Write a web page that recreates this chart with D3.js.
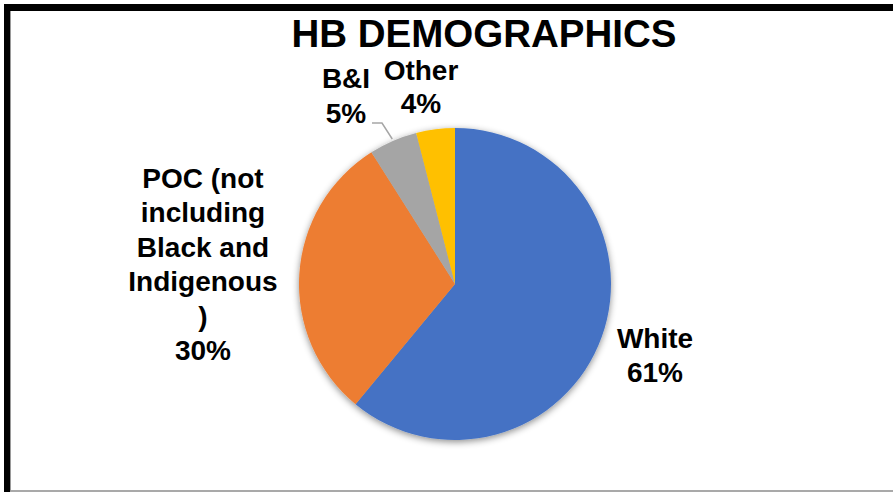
<!DOCTYPE html>
<html>
<head>
<meta charset="utf-8">
<script src="https://cdn.jsdelivr.net/npm/d3@7"></script>
<style>
  html, body { margin: 0; padding: 0; background: #fff; }
  svg { display: block; font-family: "Liberation Sans", Arial, sans-serif; }
</style>
</head>
<body>
<svg id="chart" width="893" height="493"></svg>
<script>
// Demographic groups and their shares (percent)
const categories = ["White", "POC (not including Black and Indigenous)", "B&I", "Other"];
const values = [61, 30, 5, 4];
const colors = ["#4472C4", "#ED7D31", "#A5A5A5", "#FFC000"];
const labelLines = [
  ["White", "61%"],
  ["POC (not", "including", "Black and", "Indigenous", ")", "30%"],
  ["B&I", "5%"],
  ["Other", "4%"]
];
const title = "HB DEMOGRAPHICS";

const W = 893, H = 493;
const svg = d3.select("#chart");

// Chart frame: heavy top and left rules, light bottom rule
svg.append("line").attr("x1", 4).attr("x2", W).attr("y1", 7.5).attr("y2", 7.5)
  .attr("stroke", "#000").attr("stroke-width", 7);
svg.append("line").attr("x1", 7).attr("x2", 7).attr("y1", 4).attr("y2", 492)
  .attr("stroke", "#000").attr("stroke-width", 6);
svg.append("line").attr("x1", 10).attr("x2", W).attr("y1", 491).attr("y2", 491)
  .attr("stroke", "#8c8c8c").attr("stroke-width", 1.5);
svg.append("line").attr("x1", 10.5).attr("x2", 10.5).attr("y1", 11).attr("y2", 491)
  .attr("stroke", "#9a9a9a").attr("stroke-width", 1);

// Title
svg.append("text")
  .attr("x", 484).attr("y", 47)
  .attr("text-anchor", "middle")
  .attr("font-size", 38.5).attr("font-weight", "bold").attr("fill", "#000")
  .text(title);

// Soft shadow under the pie
const defs = svg.append("defs");
const f = defs.append("filter").attr("id", "pieShadow")
  .attr("x", "-20%").attr("y", "-20%").attr("width", "140%").attr("height", "140%");
f.append("feDropShadow").attr("dx", 0).attr("dy", 2).attr("stdDeviation", 3.5)
  .attr("flood-color", "#000").attr("flood-opacity", 0.45);

const cx = 455, cy = 284, r = 156;
const pie = d3.pie().sort(null).value(d => d).startAngle(0).endAngle(2 * Math.PI);
const arcs = pie(values);
const arc = d3.arc().innerRadius(0).outerRadius(r);
const color = d3.scaleOrdinal().domain(d3.range(values.length)).range(colors);

const g = svg.append("g").attr("transform", `translate(${cx},${cy})`);
g.append("g").attr("filter", "url(#pieShadow)")
  .selectAll("path").data(arcs).join("path")
  .attr("d", arc)
  .attr("fill", (d, i) => color(i));

// Data labels (center x, first baseline, line spacing)
const labelPos = [
  { x: 655, y: 348, dy: 34 },
  { x: 203, y: 188, dy: 34.4 },
  { x: 346, y: 88, dy: 35 },
  { x: 421, y: 80, dy: 33 }
];
labelLines.forEach((lines, i) => {
  const p = labelPos[i];
  const t = svg.append("text")
    .attr("text-anchor", "middle")
    .attr("font-size", 28).attr("font-weight", "bold").attr("fill", "#000");
  lines.forEach((ln, k) => {
    t.append("tspan").attr("x", p.x).attr("y", p.y + k * p.dy).text(ln);
  });
});

// Leader line for the B&I label, starting at its slice's outer edge
const bi = arcs[2];
const mid = (bi.startAngle + bi.endAngle) / 2;
const sx = cx + (r + 2) * Math.sin(mid);
const sy = cy - (r + 2) * Math.cos(mid);
svg.append("polyline")
  .attr("points", `${sx},${sy} 382,123 372,123`)
  .attr("fill", "none").attr("stroke", "#A6A6A6").attr("stroke-width", 1.5);
</script>
</body>
</html>
